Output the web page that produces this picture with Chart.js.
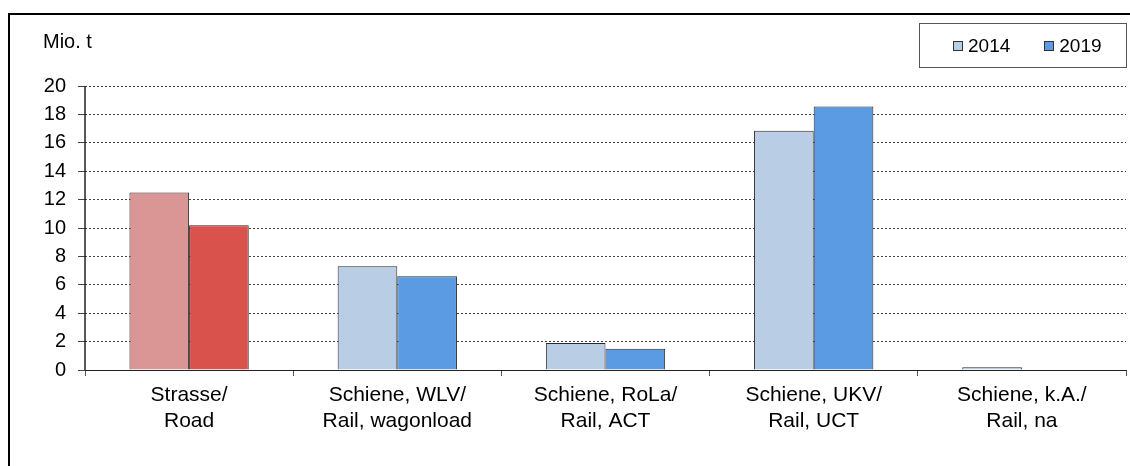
<!DOCTYPE html>
<html>
<head>
<meta charset="utf-8">
<script src="https://cdn.jsdelivr.net/npm/chart.js@4/dist/chart.umd.min.js"></script>
<style>
  body { margin: 0; background: #fff; font-family: "Liberation Sans", Arial, sans-serif; }
  #wrap { position: relative; width: 1130px; height: 466px; overflow: hidden; }
  #frame { position: absolute; left: 8px; top: 13px; width: 1200px; height: 500px;
           border-left: 2px solid #000; border-top: 2px solid #000; }
  #unit { position: absolute; left: 43px; top: 31px; font-size: 20px; line-height: 20px; color: #000; }
  #legend { position: absolute; left: 919px; top: 23px; height: 43px; width: 173px;
            border: 1px solid #555; display: flex; align-items: center; padding-left: 33px;
            box-sizing: content-box; font-size: 19px; }
  .item { display: flex; align-items: center; margin-right: 34px; }
  .sw { width: 8px; height: 8px; border: 1px solid #333; margin-right: 5px; }
  canvas { position: absolute; left: 0; top: 0; }
</style>
</head>
<body>
<div id="wrap">
  <div id="frame"></div>
  <canvas id="chartCanvas" width="1130" height="466"></canvas>
  <div id="unit">Mio. t</div>
  <div id="legend"></div>
</div>
<script>
const categories = [
  ["Strasse/", "Road"],
  ["Schiene, WLV/", "Rail, wagonload"],
  ["Schiene, RoLa/", "Rail, ACT"],
  ["Schiene, UKV/", "Rail, UCT"],
  ["Schiene, k.A./", "Rail, na"]
];
const seriesNames = ["2014", "2019"];
const values2014 = [12.5, 7.3, 1.9, 16.85, 0.2];
const values2019 = [10.2, 6.6, 1.5, 18.55, null];
const yTicks = { min: 0, max: 20, step: 2 };

// road bars are red, rail bars blue
const colors2014 = ["#D99694", "#B9CDE5", "#B9CDE5", "#B9CDE5", "#B9CDE5"];
const colors2019 = ["#D9534C", "#5B9BE3", "#5B9BE3", "#5B9BE3", "#5B9BE3"];

const legendEl = document.getElementById("legend");
seriesNames.forEach((name, i) => {
  const item = document.createElement("div");
  item.className = "item";
  const sw = document.createElement("span");
  sw.className = "sw";
  sw.style.background = i === 0 ? colors2014[1] : colors2019[1];
  const txt = document.createElement("span");
  txt.textContent = name;
  item.appendChild(sw);
  item.appendChild(txt);
  legendEl.appendChild(item);
});

const font = "'Liberation Sans', Arial, sans-serif";

// solid y axis line (border.dash is used for the dotted grid)
const yAxisLine = {
  id: "yAxisLine",
  afterDraw(chart) {
    const { ctx, chartArea } = chart;
    ctx.save();
    ctx.setLineDash([]);
    ctx.strokeStyle = "#222";
    ctx.lineWidth = 1.5;
    ctx.beginPath();
    ctx.moveTo(chartArea.left, chartArea.top);
    ctx.lineTo(chartArea.left, chartArea.bottom);
    ctx.stroke();
    ctx.restore();
  }
};

new Chart(document.getElementById("chartCanvas"), {
  type: "bar",
  data: {
    labels: categories,
    datasets: [
      { label: seriesNames[0], data: values2014, backgroundColor: colors2014, borderColor: "#2a2a2a", borderWidth: 1 },
      { label: seriesNames[1], data: values2019, backgroundColor: colors2019, borderColor: "#2a2a2a", borderWidth: 1 }
    ]
  },
  options: {
    responsive: false,
    animation: false,
    categoryPercentage: 0.573,
    barPercentage: 1,
    layout: { padding: { left: 0, right: 4, top: 86, bottom: 0 } },
    plugins: { legend: { display: false }, tooltip: { enabled: false } },
    scales: {
      x: {
        offset: true,
        grid: { display: true, drawOnChartArea: false, drawTicks: true, tickLength: 6, offset: true, color: "#555" },
        border: { color: "#222", width: 1 },
        ticks: { color: "#000", font: { family: font, size: 21, lineHeight: 1.2 }, padding: 7, autoSkip: false, maxRotation: 0 },
        afterFit(scale) { scale.height = 96; }
      },
      y: {
        min: yTicks.min,
        max: yTicks.max,
        ticks: { stepSize: yTicks.step, color: "#000", font: { family: font, size: 20 }, padding: 12 },
        grid: { color: "#444", tickLength: 7, tickBorderDash: [] },
        border: { display: false, dash: [2, 2] },
        afterFit(scale) { scale.width = 85; }
      }
    }
  },
  plugins: [yAxisLine]
});
</script>
</body>
</html>
